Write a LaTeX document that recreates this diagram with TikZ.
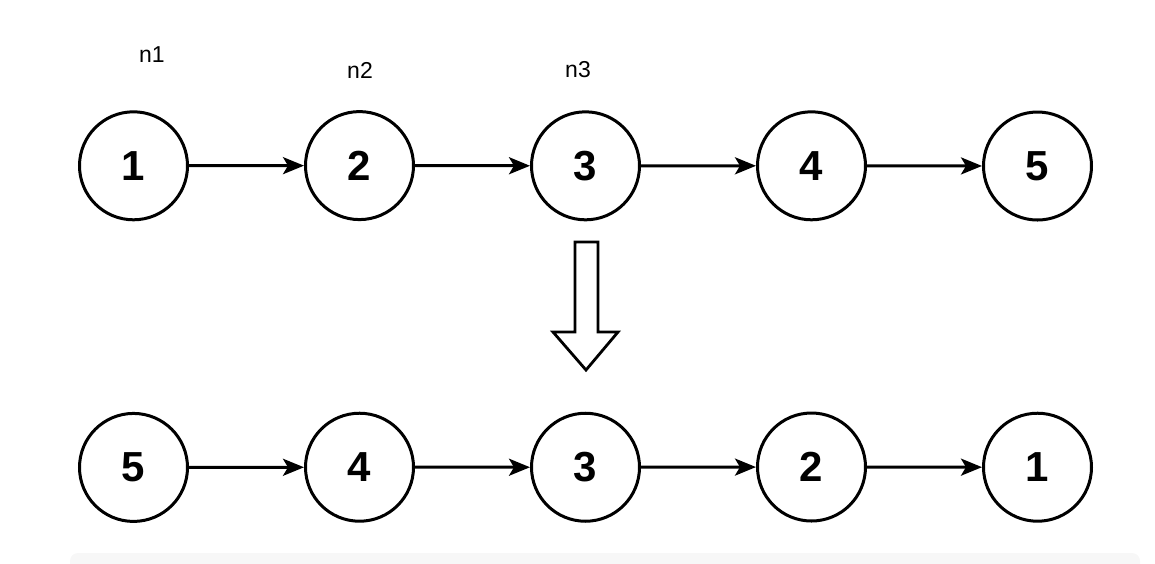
\documentclass[tikz,border=0pt]{standalone}
\usepackage{fontspec}
\setmainfont{Liberation Sans}
\usetikzlibrary{matrix,arrows.meta}

\begin{document}
\begin{tikzpicture}[x=0.5pt, y=-0.5pt,
    listnode/.style={circle, draw, line width=1.5pt, minimum size=54pt, inner sep=0pt, font=\fontsize{21}{21}\selectfont\bfseries},
    link/.style={line width=1.5pt, -{Stealth[length=10.5pt, width=8.5pt, inset=2.5pt]}},
    ptrlabel/.style={font=\fontsize{11.5}{12}\selectfont}]
  \useasboundingbox (0,0) rectangle (1155,563);
  % grey strip at the bottom
  \fill[black!3, rounded corners=4pt] (70,553) rectangle (1140,580);
  \matrix (m) at (585.5,316.5) [matrix of nodes, nodes={listnode}, row sep=95pt, column sep=57.5pt]
  {
    1 & 2 & 3 & 4 & 5 \\
    5 & 4 & 3 & 2 & 1 \\
  };
  \path[link]
  (m-1-1) edge (m-1-2)
  (m-1-2) edge (m-1-3)
  (m-1-3) edge (m-1-4)
  (m-1-4) edge (m-1-5)
  (m-2-1) edge (m-2-2)
  (m-2-2) edge (m-2-3)
  (m-2-3) edge (m-2-4)
  (m-2-4) edge (m-2-5)
  ;
  \node[ptrlabel] (n1) at (152,55) {n1};
  \node[ptrlabel] (n2) at (360,70) {n2};
  \node[ptrlabel] (n3) at (578,70) {n3};
  % hollow arrow between the two lists
  \draw[line width=1.4pt, line join=miter]
  (575,242) -- (598,242) -- (598,332) -- (618,332) -- (586,370) -- (553,332) -- (575,332) -- cycle;
\end{tikzpicture}
\end{document}
